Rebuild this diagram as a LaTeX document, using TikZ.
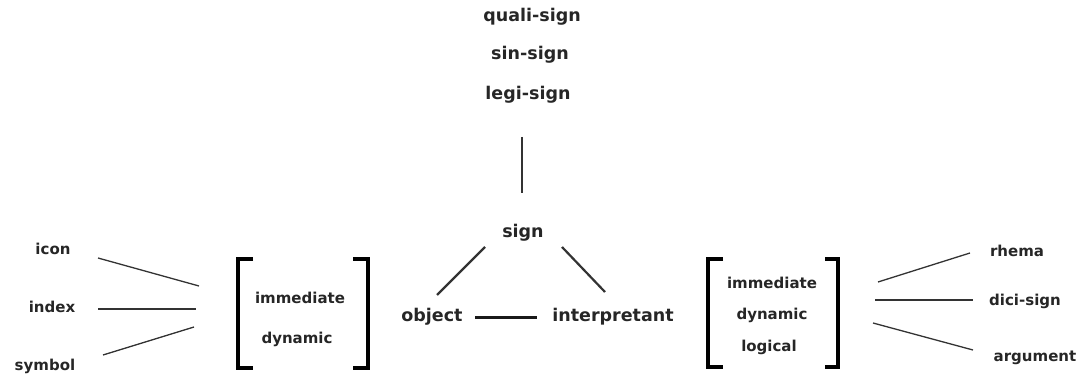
\documentclass[tikz,border=0pt]{standalone}
\usepackage{fontspec}
\setmainfont{DejaVu Sans}
\begin{document}
\begin{tikzpicture}[x=1pt,y=-1pt,
  big/.style={font=\bfseries\fontsize{17.5}{20}\selectfont, text=black!85, inner sep=1pt},
  small/.style={font=\bfseries\fontsize{15}{18}\selectfont, text=black!85, inner sep=1pt},
  thin/.style={draw=black!80, line width=1.3pt},
  mid/.style={draw=black!80, line width=2.2pt},
  thick/.style={draw=black!90, line width=3pt},
  brack/.style={draw=black, line width=3.5pt, line cap=butt}]
\useasboundingbox (0,0) rectangle (1088,379);
% top
\node[big] (quali) at (532,17) {quali-sign};
\node[big] (sin) at (530,55) {sin-sign};
\node[big] (legi) at (528,95) {legi-sign};
\node[big] (sign) at (523,233) {sign};
\node[big] (object) at (432,317) {object};
\node[big] (interp) at (613,317) {interpretant};
\coordinate (vtop) at (522,137);
\coordinate (vbot) at (522,193);
\draw[thin] (vtop) -- (vbot);
\coordinate (so1) at (485,247); \coordinate (so2) at (437,295);
\coordinate (si1) at (562,247); \coordinate (si2) at (605,292);
\draw[mid] (so1) -- (so2);
\draw[mid] (si1) -- (si2);
\draw[thick] (475,318) coordinate (oi1) -- (537,318) coordinate (oi2);
% left bracket group
\draw[brack] (253,259) -- (238,259) -- (238,368) -- (253,368);
\draw[brack] (353,259) -- (368,259) -- (368,368) -- (353,368);
\node[small] (limm) at (300,298) {immediate};
\node[small] (ldyn) at (297,339) {dynamic};
\node[small] (icon) at (53,249) {icon};
\node[small] (index) at (52,307) {index};
\node[small] (symbol) at (45,366) {symbol};
\coordinate (ic1) at (98,258); \coordinate (ic2) at (199,286);
\coordinate (in1) at (98,309); \coordinate (in2) at (196,309);
\coordinate (sy1) at (103,355); \coordinate (sy2) at (194,327);
\draw[thin] (ic1) -- (ic2);
\draw[thin] (in1) -- (in2);
\draw[thin] (sy1) -- (sy2);
% right bracket group
\draw[brack] (723,259) -- (708,259) -- (708,367) -- (723,367);
\draw[brack] (825,259) -- (838,259) -- (838,367) -- (825,367);
\node[small] (rimm) at (772,283) {immediate};
\node[small] (rdyn) at (772,315) {dynamic};
\node[small] (rlog) at (769,347) {logical};
\node[small] (rhema) at (1017,251) {rhema};
\node[small] (dici) at (1025,301) {dici-sign};
\node[small] (arg) at (1035,358) {argument};
\coordinate (rh1) at (878,282); \coordinate (rh2) at (970,253);
\coordinate (dc1) at (875,300); \coordinate (dc2) at (973,300);
\coordinate (ar1) at (873,323); \coordinate (ar2) at (973,350);
\draw[thin] (rh1) -- (rh2);
\draw[thin] (dc1) -- (dc2);
\draw[thin] (ar1) -- (ar2);
\end{tikzpicture}
\end{document}
